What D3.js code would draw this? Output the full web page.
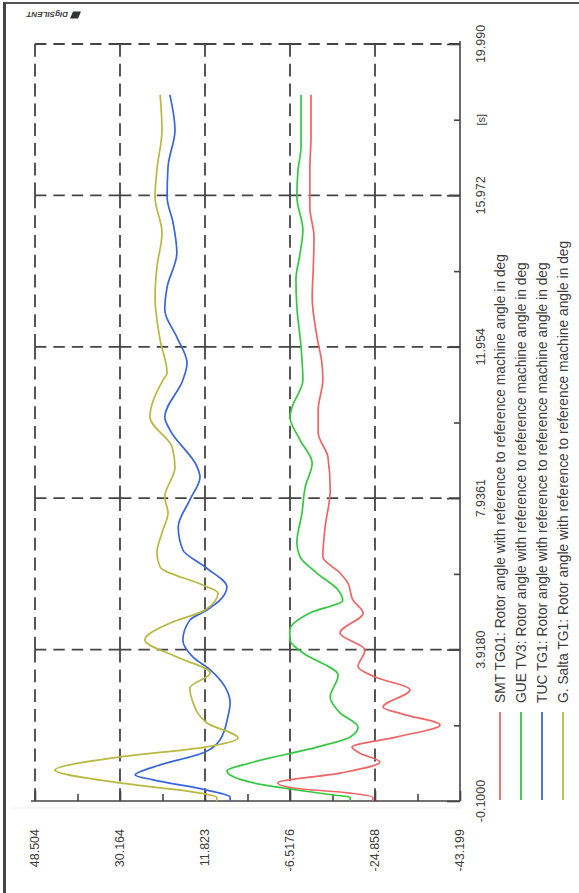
<!DOCTYPE html>
<html>
<head>
<meta charset="utf-8">
<script src="https://cdnjs.cloudflare.com/ajax/libs/d3/7.8.5/d3.min.js"></script>
<style>
  html, body { margin: 0; padding: 0; background: #fff; }
  svg { display: block; }
  text { font-family: "Liberation Sans", Arial, sans-serif; fill: #3c3c3c; }
</style>
</head>
<body>
<svg id="chart" width="579" height="893"></svg>
<script>
// Time axis (seconds) and angle axis (degrees)
const timeTicks = [-0.1, 3.918, 7.9361, 11.954, 15.972, 19.990];
const timeTickLabels = ["-0.1000", "3.9180", "7.9361", "11.954", "15.972", "19.990"];
const angleTicks = [48.504, 30.164, 11.823, -6.5176, -24.858, -43.199];
const angleTickLabels = ["48.504", "30.164", "11.823", "-6.5176", "-24.858", "-43.199"];
const timeUnit = "[s]";

// Rotor angles [time s, angle deg]
const smtTG01 = [[-0.1,-24.4],[0,-24.4],[0.11,-19.5],[0.245,-7.2],[0.38,-3.9],[0.64,-17.3],[0.935,-25.9],[1.17,-21.6],[1.33,-19.9],[1.6,-29.6],[1.92,-38.9],[2.2,-31.0],[2.39,-26.6],[2.85,-32.4],[3.19,-24.9],[3.46,-21.2],[3.91,-22.7],[4.36,-17.3],[4.89,-22.3],[5.23,-20.1],[5.69,-19.0],[5.95,-17.3],[6.38,-13.6],[7.17,-14.1],[8.15,-15.2],[9.03,-14.7],[9.67,-12.6],[10.28,-12.6],[11.07,-13.6],[11.52,-13.4],[12.21,-12.35],[13.27,-11.3],[13.91,-11.5],[14.87,-11.7],[15.66,-10.8],[16.7,-10.8],[17.5,-11.05],[18.64,-11.05]];
const gueTV3 = [[-0.1,-19.5],[0,-19.5],[0.06,-15.8],[0.245,-5.0],[0.40,2.1],[0.70,7.1],[0.91,2.1],[1.33,-12.3],[1.6,-19.5],[1.86,-21.2],[2.24,-17.3],[2.66,-15.2],[3.24,-16.9],[3.83,-9.3],[4.17,-6.5],[4.44,-6.5],[4.89,-10.8],[5.23,-17.9],[5.5,-16.9],[5.95,-12.3],[6.38,-8.7],[6.75,-8.0],[7.54,-9.1],[8.23,-9.8],[8.87,-11.3],[9.48,-8.7],[10.09,-6.5],[10.36,-7.0],[11.07,-9.3],[11.95,-8.9],[13.01,-8.0],[13.73,-7.8],[14.44,-8.7],[15.05,-9.3],[15.93,-8.0],[16.65,-8.25],[17.26,-8.9],[18.64,-8.9]];
const tucTG1 = [[-0.1,6.4],[0,6.4],[0.19,11.4],[0.46,23.0],[0.59,26.9],[0.80,23.0],[1.20,11.8],[1.52,8.6],[2.13,6.9],[2.5,6.4],[2.93,7.5],[3.38,10.7],[3.72,14.4],[4.17,16.6],[4.70,15.1],[4.97,11.4],[5.23,8.6],[5.58,7.1],[6.11,11.8],[6.56,16.6],[7.17,17.6],[7.89,15.1],[8.50,12.9],[8.76,13.5],[9.75,19.4],[10.09,20.5],[11.07,16.6],[11.52,15.7],[12.21,17.9],[12.93,20.5],[13.54,20.0],[14.44,17.9],[15.24,18.7],[15.93,20.0],[16.73,19.8],[17.71,18.3],[18.64,19.4]];
const saltaTG1 = [[-0.1,9.3],[0,9.3],[0.11,12.9],[0.38,30.2],[0.72,44.2],[1.07,30.2],[1.33,11.8],[1.57,4.7],[1.97,11.4],[2.58,14.6],[2.9,15.1],[3.30,10.7],[3.72,17.9],[4.17,24.8],[4.62,19.4],[4.97,11.8],[5.42,9.0],[5.63,12.3],[6.11,21.5],[6.48,22.2],[7.09,20.9],[7.54,19.8],[7.97,20.5],[8.76,18.3],[9.29,18.9],[10.09,23.7],[11.07,20.9],[11.26,20.0],[12.13,21.5],[13.27,22.6],[14.07,22.2],[14.97,21.1],[15.93,22.6],[16.65,22.2],[17.71,21.1],[18.64,21.5]];

const seriesNames = [
  "SMT TG01: Rotor angle with reference to reference machine angle in deg",
  "GUE TV3: Rotor angle with reference to reference machine angle in deg",
  "TUC TG1: Rotor angle with reference to reference machine angle in deg",
  "G. Salta TG1: Rotor angle with reference to reference machine angle in deg"
];
const seriesData = [smtTG01, gueTV3, tucTG1, saltaTG1];
const seriesColors = ["#ef6464", "#34c840", "#3a66dc", "#b9b840"];

const svg = d3.select("#chart");
const plotLeft = 35, plotRight = 460, plotTop = 44, plotBottom = 801;

// angle runs horizontally (high on the left), time runs upward
const x = d3.scaleLinear().domain([angleTicks[0], angleTicks[angleTicks.length - 1]]).range([plotLeft, plotRight]);
const y = d3.scaleLinear().domain([timeTicks[0], timeTicks[timeTicks.length - 1]]).range([plotBottom, plotTop]);

// page frame
svg.append("line").attr("x1", 4).attr("x2", 579).attr("y1", 3).attr("y2", 3)
  .attr("stroke", "#555").attr("stroke-width", 2);
svg.append("line").attr("x1", 4.5).attr("x2", 4.5).attr("y1", 2).attr("y2", 893)
  .attr("stroke", "#444").attr("stroke-width", 3);
svg.append("line").attr("x1", 12).attr("x2", 460).attr("y1", 808).attr("y2", 808)
  .attr("stroke", "#ececec").attr("stroke-width", 1);

// logo (page is turned, so it reads upside down)
const logo = svg.append("g").attr("transform", "translate(45,15) rotate(180)");
logo.append("path").attr("d", "M-33,-3.5 L-25,-3.5 L-28,3.5 L-36,3.5 Z").attr("fill", "#333");
logo.append("text").attr("x", -23).attr("y", 3).attr("font-size", 8)
  .attr("font-weight", "bold").attr("font-style", "italic").attr("fill", "#333").text("DIgSILENT");

// dashed grid, drawn cell edge by cell edge so dashes meet at the crossings
function dashFor(len, dash = 13, gap = 7) {
  const n = Math.max(1, Math.round((len + gap) / (dash + gap)));
  return `${(len + gap) / n - gap},${gap}`;
}
const grid = svg.append("g").attr("stroke", "#444").attr("stroke-width", 1.8).attr("fill", "none");
angleTicks.slice(0, -1).forEach(a => {
  for (let i = 0; i < timeTicks.length - 1; i++) {
    const y0 = y(timeTicks[i]), y1 = y(timeTicks[i + 1]);
    grid.append("line").attr("x1", x(a)).attr("x2", x(a)).attr("y1", y0).attr("y2", y1)
      .attr("stroke-dasharray", dashFor(Math.abs(y1 - y0)));
  }
});
timeTicks.slice(1).forEach(t => {
  for (let i = 0; i < angleTicks.length - 1; i++) {
    const x0 = x(angleTicks[i]), x1 = x(angleTicks[i + 1]);
    grid.append("line").attr("x1", x0).attr("x2", x1).attr("y1", y(t)).attr("y2", y(t))
      .attr("stroke-dasharray", dashFor(Math.abs(x1 - x0)));
  }
});

// minor ticks halfway between the labelled ones
const mids = arr => arr.slice(1).map((v, i) => (v + arr[i]) / 2);

// angle axis along the bottom, ticks pointing up
const xAxis = d3.axisTop(x).tickValues(angleTicks).tickSize(10).tickFormat("");
const xAxisMinor = d3.axisTop(x).tickValues(mids(angleTicks)).tickSize(7).tickFormat("");
const gx = svg.append("g").attr("transform", `translate(0,${plotBottom})`).call(xAxis);
svg.append("g").attr("transform", `translate(0,${plotBottom})`).call(xAxisMinor).select(".domain").remove();
gx.select(".domain").attr("d", `M${plotLeft - 4},0H${plotRight}`);

// time axis along the right, ticks pointing left
const yAxis = d3.axisLeft(y).tickValues(timeTicks).tickSize(13).tickFormat("");
const yAxisMinor = d3.axisLeft(y).tickValues(mids(timeTicks)).tickSize(6).tickFormat("");
const gy = svg.append("g").attr("transform", `translate(${plotRight},0)`).call(yAxis);
svg.append("g").attr("transform", `translate(${plotRight},0)`).call(yAxisMinor).select(".domain").remove();
gy.select(".domain").attr("d", `M0,${plotTop - 3}V${plotBottom}`);
svg.selectAll(".domain, .tick line").attr("stroke", "#444").attr("stroke-width", 1.6);

// tick labels
svg.append("g").selectAll("text").data(angleTicks).join("text")
  .attr("transform", d => `translate(${x(d)},829) rotate(-90)`)
  .attr("text-anchor", "end").attr("dy", "0.35em").attr("font-size", 12.5)
  .text((d, i) => angleTickLabels[i]);
svg.append("g").selectAll("text").data(timeTicks).join("text")
  .attr("transform", d => `translate(481,${y(d)}) rotate(-90)`)
  .attr("text-anchor", "middle").attr("dy", "0.35em").attr("font-size", 12.5)
  .text((d, i) => timeTickLabels[i]);
svg.append("text")
  .attr("transform", `translate(481,${y((timeTicks[4] + timeTicks[5]) / 2)}) rotate(-90)`)
  .attr("text-anchor", "middle").attr("dy", "0.35em").attr("font-size", 11)
  .text(timeUnit);

// curves
const line = d3.line().x(d => x(d[1])).y(d => y(d[0])).curve(d3.curveMonotoneY);
const plot = svg.append("g");
seriesData.forEach((s, i) => {
  plot.append("path").datum(s).attr("d", line).attr("fill", "none")
    .attr("stroke", seriesColors[i]).attr("stroke-width", 1.7).attr("stroke-linejoin", "round");
});

// legend
const legendX = [500, 521, 542, 563];
const legend = svg.append("g");
seriesNames.forEach((name, i) => {
  legend.append("line").attr("x1", legendX[i]).attr("x2", legendX[i]).attr("y1", 800).attr("y2", 712)
    .attr("stroke", seriesColors[i]).attr("stroke-width", 1.8);
  legend.append("text")
    .attr("transform", `translate(${legendX[i]},703) rotate(-90)`)
    .attr("dy", "0.35em").attr("font-size", 13.8).text(name);
});
</script>
</body>
</html>
